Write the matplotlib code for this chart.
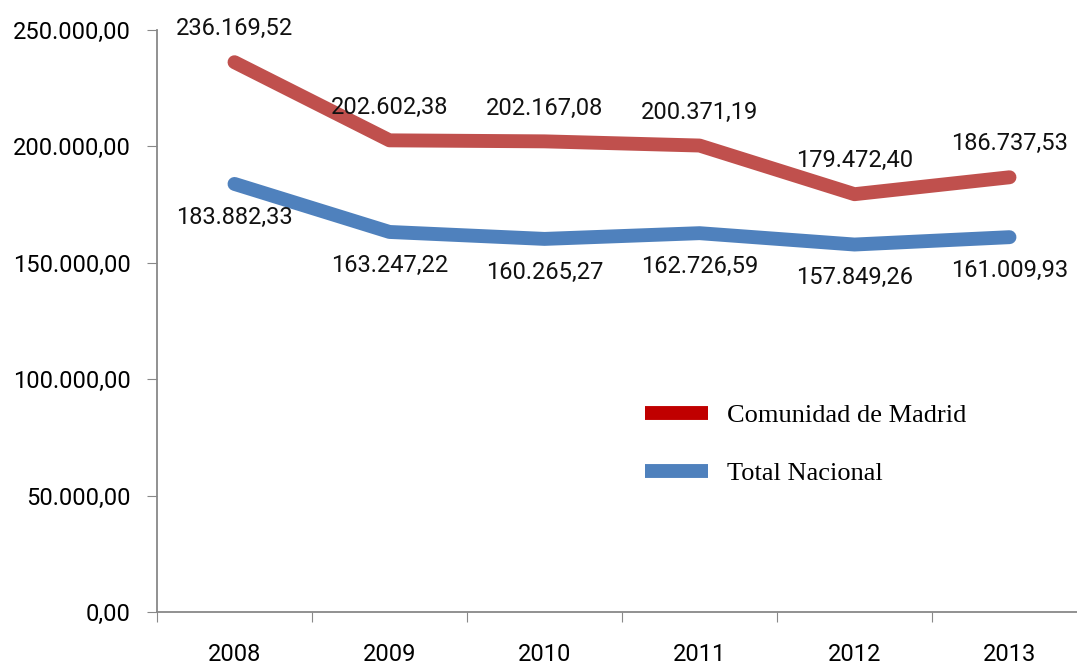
import matplotlib
matplotlib.use("Agg")
import matplotlib.pyplot as plt
from matplotlib.lines import Line2D
from matplotlib.ticker import FuncFormatter

years = ["2008", "2009", "2010", "2011", "2012", "2013"]
madrid = [236169.52, 202602.38, 202167.08, 200371.19, 179472.40, 186737.53]
nacional = [183882.33, 163247.22, 160265.27, 162726.59, 157849.26, 161009.93]
series_names = ["Comunidad de Madrid", "Total Nacional"]


def fmt_es(v, pos=None):
    s = f"{v:,.2f}"
    return s.replace(",", "X").replace(".", ",").replace("X", ".")


plt.rcParams["font.family"] = ["Roboto", "DejaVu Sans"]

fig = plt.figure(figsize=(10.77, 6.64), dpi=100)
ax = fig.add_axes([157 / 1077, 1 - 612 / 664, 930 / 1077, 582 / 664])

x = list(range(len(years)))
ax.plot(x, madrid, color="#C0504D", linewidth=10, solid_capstyle="round")
ax.plot(x, nacional, color="#4F81BD", linewidth=10, solid_capstyle="round")

# etiquetas de datos
for i in x:
    ax.annotate(fmt_es(madrid[i]), (i, madrid[i]), xytext=(0, 24),
                textcoords="offset points", ha="center", va="center",
                fontsize=17, color="#111111")
    ax.annotate(fmt_es(nacional[i]), (i, nacional[i]), xytext=(0, -24),
                textcoords="offset points", ha="center", va="center",
                fontsize=17, color="#111111")

ax.set_xlim(-0.5, 5.5)
ax.set_ylim(0, 250000)
ax.set_yticks([0, 50000, 100000, 150000, 200000, 250000])
ax.yaxis.set_major_formatter(FuncFormatter(fmt_es))
ax.set_xticks([i - 0.5 for i in range(len(years) + 1)])
ax.set_xticklabels([])
ax.set_xticks(x, minor=True)
ax.set_xticklabels(years, minor=True)
ax.tick_params(axis="x", which="minor", length=0, pad=22, labelsize=17)
ax.tick_params(axis="x", which="major", length=7, color="#888888")
ax.tick_params(axis="y", length=7, color="#888888", pad=12, labelsize=17)

for side in ["top", "right"]:
    ax.spines[side].set_visible(False)
for side in ["left", "bottom"]:
    ax.spines[side].set_color("#888888")
    ax.spines[side].set_linewidth(1.3)

handles = [Line2D([], [], color="#C00000", linewidth=10, solid_capstyle="butt"),
           Line2D([], [], color="#4F81BD", linewidth=10, solid_capstyle="butt")]
leg = ax.legend(handles, series_names, loc="upper left",
                bbox_to_anchor=(0.499, 0.399), frameon=False,
                prop={"family": "Liberation Serif", "size": 19},
                handlelength=2.4, handletextpad=0.72, labelspacing=1.3)

fig.savefig("out.png", dpi=100)
